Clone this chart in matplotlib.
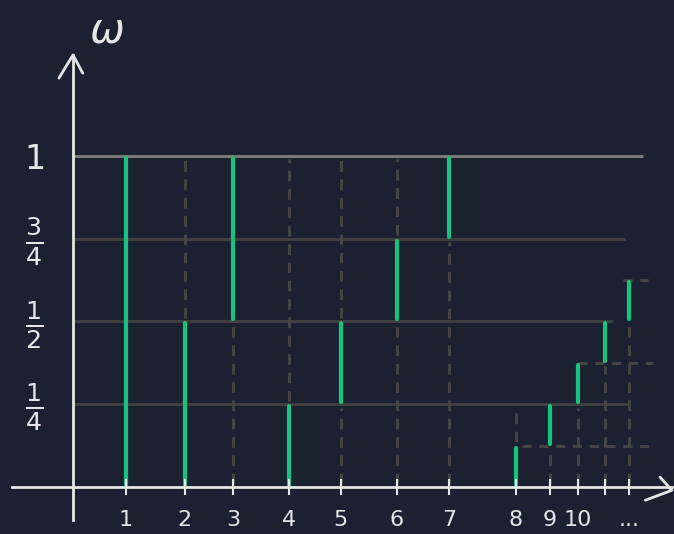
import matplotlib
matplotlib.use("Agg")
import matplotlib.pyplot as plt

# column positions along the axis (hand-drawn spacing) and their labels
col_x = [0.98, 2.07, 2.96, 4.0, 4.96, 6.0, 6.96, 8.2, 8.83, 9.35, 9.85, 10.3]
col_labels = ["1", "2", "3", "4", "5", "6", "7", "8", "9", "10", "", "..."]

# green intervals for each column
green_lo = [0.0, 0.0, 0.5, 0.0, 0.25, 0.5, 0.75, 0.0, 0.125, 0.25, 0.375, 0.5]
green_hi = [1.0, 0.5, 1.0, 0.25, 0.5, 0.75, 1.0, 0.125, 0.25, 0.375, 0.5, 0.625]

# dashed gray segments: column index, low, high
dash_col = [1, 2, 3, 4, 4, 5, 5, 6, 7, 8, 9, 10, 11]
dash_lo = [0.5, 0.0, 0.25, 0.5, 0.0, 0.75, 0.0, 0.0, 0.125, 0.0, 0.0, 0.0, 0.0]
dash_hi = [1.0, 0.5, 1.0, 1.0, 0.25, 1.0, 0.5, 0.75, 0.25, 0.125, 0.25, 0.375, 0.5]

# solid horizontal levels and where they end
levels = [1.0, 0.75, 0.5, 0.25]
level_end = [10.56, 10.22, 10.0, 10.28]
level_labels = ["$1$", r"$\frac{3}{4}$", r"$\frac{1}{2}$", r"$\frac{1}{4}$"]

# dashed horizontal levels
dlevels = [0.625, 0.375, 0.125]
dlevel_start = [10.19, 9.35, 8.31]
dlevel_end = [10.65, 10.74, 10.76]

bg = "#1b2131"
green = "#19c27e"
axis_c = "#e6e6e6"

fig = plt.figure(figsize=(6.74, 5.34), dpi=100, facecolor=bg)
ax = fig.add_axes([0, 0, 1, 1])
ax.set_facecolor(bg)
ax.set_xlim(-1.352, 11.13)
ax.set_ylim(-0.142, 1.471)
ax.axis("off")

# horizontal lines
for lv, xe in zip(levels, level_end):
    c = "#7b7777" if lv == 1.0 else "#3f3f3f"
    ax.plot([0, xe], [lv, lv], color=c, lw=2.2, solid_capstyle="butt", zorder=1)
for lv, xs, xe in zip(dlevels, dlevel_start, dlevel_end):
    ax.plot([xs, xe], [lv, lv], color="#444444", lw=2.2, ls=(0, (3, 2.5)), zorder=1)

# dashed verticals
for ci, lo, hi in zip(dash_col, dash_lo, dash_hi):
    ax.plot([col_x[ci], col_x[ci]], [lo + 0.01, hi - 0.01], color="#444444", lw=2.2,
            ls=(0, (3.5, 2.5)), zorder=2)

# green segments
for x, lo, hi in zip(col_x, green_lo, green_hi):
    ax.plot([x, x], [lo + 0.006, hi - 0.006], color=green, lw=3.0,
            solid_capstyle="round", zorder=3)

# axes with arrows
ax.plot([-1.13, 11.09], [0, 0], color=axis_c, lw=2, zorder=4)
ax.plot([0, 0], [-0.1, 1.305], color=axis_c, lw=2, zorder=4)
ax.plot([-0.26, 0, 0.18], [1.235, 1.305, 1.25], color=axis_c, lw=2, zorder=4,
        solid_joinstyle="round", solid_capstyle="round")
ax.plot([10.87, 11.09, 10.6], [0.03, -0.01, -0.04], color=axis_c, lw=2, zorder=4,
        solid_joinstyle="round", solid_capstyle="round")

# ticks and labels
for x, lab in zip(col_x, col_labels):
    ax.plot([x, x], [-0.02, 0.02], color=axis_c, lw=1.5, zorder=4)
    ax.text(x, -0.1, lab, color=axis_c, fontsize=16, ha="center", va="center")

for lv, lab in zip(levels, level_labels):
    ax.text(-0.72, lv - 0.01, lab, color=axis_c, fontsize=24 if lv == 1.0 else 26,
            ha="center", va="center")

ax.text(0.62, 1.38, r"$\omega$", color=axis_c, fontsize=30, ha="center", va="center")

fig.savefig("out.png", dpi=100, facecolor=bg)
